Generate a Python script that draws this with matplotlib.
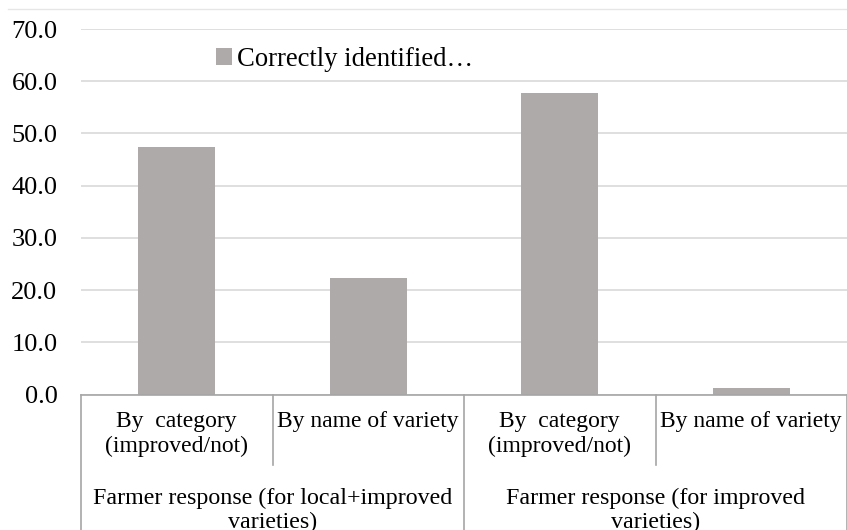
import matplotlib
matplotlib.use("Agg")
import matplotlib.pyplot as plt
from matplotlib.patches import Patch
from matplotlib.lines import Line2D

plt.rcParams['font.family'] = ['Liberation Serif', 'DejaVu Serif']

categories = ["By  category\n(improved/not)", "By name of variety",
              "By  category\n(improved/not)", "By name of variety"]
groups = ["Farmer response (for local+improved\nvarieties)",
          "Farmer response (for improved\nvarieties)"]
values = [47.4, 22.3, 57.8, 1.3]
series_name = "Correctly identified…"
yticks = [0, 10, 20, 30, 40, 50, 60, 70]

W, H = 847, 530
fig = plt.figure(figsize=(W / 100, H / 100), dpi=100)
left, right = 81 / W, 1.0
bottom, top = (H - 394.5) / H, (H - 29) / H
ax = fig.add_axes([left, bottom, right - left, top - bottom])

bar_color = '#aeaaaa'
x = list(range(len(values)))
ax.bar(x, values, width=0.4, color=bar_color, zorder=2)

ax.set_xlim(-0.5, len(values) - 0.5)
ax.set_ylim(0, 70)
ax.set_yticks(yticks)
ax.set_yticklabels([f"{v:.1f}" for v in yticks], fontsize=19)
ax.tick_params(axis='y', length=0, pad=17)
ax.set_xticks([])
ax.yaxis.grid(True, color='#d9d9d9', linewidth=1.2, zorder=0)
for s in ['top', 'right', 'left']:
    ax.spines[s].set_visible(False)
ax.spines['bottom'].set_color('#a6a6a6')
ax.spines['bottom'].set_linewidth(1.2)

trans = ax.get_xaxis_transform()
axh = (top - bottom) * H
short = -70.0 / axh
long_ = -bottom * H / axh
sep_color = '#a6a6a6'
for xi in [-0.5, 1.5, 3.5]:
    ax.add_line(Line2D([xi, xi], [0, long_], transform=trans, color=sep_color,
                       linewidth=1.2, clip_on=False))
for xi in [0.5, 2.5]:
    ax.add_line(Line2D([xi, xi], [0, short], transform=trans, color=sep_color,
                       linewidth=1.2, clip_on=False))

for xi, lab in zip(x, categories):
    ax.annotate(lab, xy=(xi, 0), xycoords=trans, xytext=(0, -17),
                textcoords='offset pixels', ha='center', va='top',
                fontsize=17, linespacing=1.2)
for gi, lab in enumerate(groups):
    ax.annotate(lab, xy=(gi * 2 + 0.5, 0), xycoords=trans, xytext=(0, -93),
                textcoords='offset pixels', ha='center', va='top',
                fontsize=17.3, linespacing=1.2)

handle = Patch(facecolor=bar_color, edgecolor='none')
fig.legend([handle], [series_name], loc='upper left',
           bbox_to_anchor=(205 / W, 1 - 36 / H), frameon=False,
           fontsize=19.2, handlelength=0.6, handleheight=0.6,
           handletextpad=0.2, borderaxespad=0)

fig.add_artist(Line2D([8 / W, 1], [1 - 8.5 / H, 1 - 8.5 / H],
                      transform=fig.transFigure, color='#e6e6e6', linewidth=1))

fig.savefig("out.png", dpi=100)
